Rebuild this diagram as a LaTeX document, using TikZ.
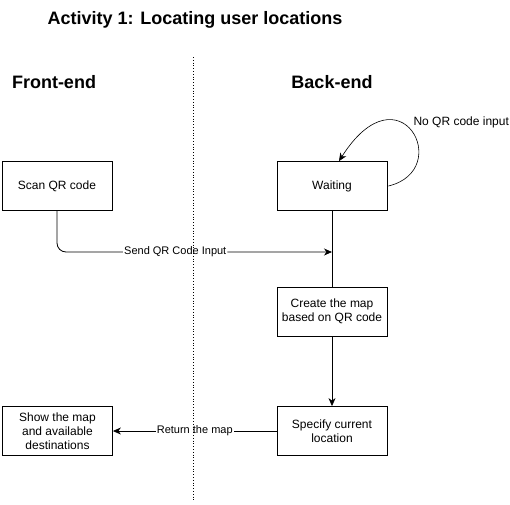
\documentclass[tikz,border=0pt]{standalone}
\usepackage{fontspec}
\setmainfont{Liberation Sans}
\usetikzlibrary{arrows.meta}
\begin{document}
\begin{tikzpicture}[x=1pt,y=-1pt,
  box/.style={draw,line width=0.8pt,minimum width=110pt,minimum height=49pt,inner sep=2pt,align=center,font=\fontsize{12}{14}\selectfont},
  lbl/.style={fill=white,inner sep=1pt,font=\fontsize{11}{13}\selectfont},
  head/.style={font=\fontsize{18}{21}\selectfont\bfseries},
  conn/.style={line width=0.8pt},
  arr/.style={line width=0.8pt,-{Stealth[length=8pt,width=7pt,inset=2.5pt]}}]
\useasboundingbox (0,0) rectangle (510,504);
\node[head] (title) at (195,20) {Activity 1: Locating user locations};
\node[head] (front) at (54,82) {Front-end};
\node[head] (back) at (332,82) {Back-end};
\node[box] (scan) at (57,186) {Scan QR code};
\node[box] (wait) at (332,186) {Waiting};
\node[box] (create) at (332,311.5) {Create the map\\based on QR code};
\node[box] (spec) at (332,431) {Specify current\\location};
\node[box] (show) at (57.5,431) {Show the map\\and available\\destinations};
\coordinate (join) at (332,252);
\draw[conn] (wait) -- (create);
\draw[arr,rounded corners=9pt] (scan.south) |- (join) node[lbl,pos=0.715] {Send QR Code Input};
\draw[arr] (create) -- (spec);
\draw[arr] (spec) -- (show) node[lbl,midway] {Return the map};
\draw[line width=0.6pt,-{Stealth[length=8pt,width=7pt,inset=2.5pt]}] ([xshift=1pt]wait.east) .. controls (455,170) and (400,65) .. ([xshift=7pt]wait.north);
\node[font=\fontsize{12}{14}\selectfont,anchor=west] (noqr) at (410,122) {No QR code input};
\coordinate (dtop) at (193,57);
\coordinate (dbot) at (193,502);
\draw[line width=0.8pt,dotted] (dtop) -- (dbot);
\end{tikzpicture}
\end{document}
